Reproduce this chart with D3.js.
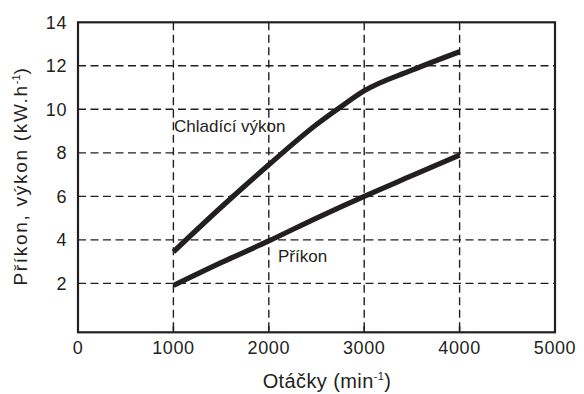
<!DOCTYPE html>
<html>
<head>
<meta charset="utf-8">
<script src="https://cdn.jsdelivr.net/npm/d3@7"></script>
<style>
  html, body { margin: 0; padding: 0; background: #fff; }
  svg { display: block; }
  text { font-family: "Liberation Sans", Arial, Helvetica, sans-serif; fill: #231f20; }
</style>
</head>
<body>
<svg id="chart" width="584" height="394"></svg>
<script>
// ---- data ----
const xTicks = [0, 1000, 2000, 3000, 4000, 5000];
const yTicks = [2, 4, 6, 8, 10, 12, 14];
const xGrid = [1000, 2000, 3000, 4000];
const yGrid = [2, 4, 6, 8, 10, 12];

const rpm = [1000, 1500, 2000, 2500, 2750, 3000, 3500, 4000];
const chladiciVykon = [3.45, 5.5, 7.45, 9.3, 10.1, 10.85, 11.8, 12.65];
const rpmPrikon = [1000, 1500, 2000, 2500, 3000, 3500, 4000];
const prikon = [1.9, 2.95, 3.95, 5.0, 6.0, 6.95, 7.9];

const labelChladici = "Chladící výkon";
const labelPrikon = "Příkon";

// ---- drawing ----
const ink = "#231f20";
const svg = d3.select("#chart");

const x = d3.scaleLinear().domain([0, 5000]).range([78, 555]);
const y = d3.scaleLinear().domain([-0.25, 14]).range([332.3, 22.3]);

const g = svg.append("g");

// grid
g.selectAll(".vgrid").data(xGrid).enter().append("line")
  .attr("x1", d => x(d)).attr("x2", d => x(d))
  .attr("y1", y.range()[1]).attr("y2", y.range()[0])
  .attr("stroke", ink).attr("stroke-width", 1.4).attr("stroke-dasharray", "8,4.5");
g.selectAll(".hgrid").data(yGrid).enter().append("line")
  .attr("x1", x.range()[0]).attr("x2", x.range()[1])
  .attr("y1", d => y(d)).attr("y2", d => y(d))
  .attr("stroke", ink).attr("stroke-width", 1.4).attr("stroke-dasharray", "8,4.5");

// x ticks (small marks above bottom axis)
g.selectAll(".xtick").data(xGrid).enter().append("line")
  .attr("x1", d => x(d)).attr("x2", d => x(d))
  .attr("y1", y.range()[0]).attr("y2", y.range()[0] - 6)
  .attr("stroke", ink).attr("stroke-width", 1.6);

// frame
g.append("rect")
  .attr("x", x.range()[0]).attr("y", y.range()[1])
  .attr("width", x.range()[1] - x.range()[0])
  .attr("height", y.range()[0] - y.range()[1])
  .attr("fill", "none").attr("stroke", ink).attr("stroke-width", 2.2);

// curves
const line = d3.line().x(d => x(d[0])).y(d => y(d[1])).curve(d3.curveMonotoneX);
g.append("path")
  .datum(rpm.map((r, i) => [r, chladiciVykon[i]]))
  .attr("d", line).attr("fill", "none").attr("stroke", ink).attr("stroke-width", 5.2);
g.append("path")
  .datum(rpmPrikon.map((r, i) => [r, prikon[i]]))
  .attr("d", line).attr("fill", "none").attr("stroke", ink).attr("stroke-width", 5.2);

// tick labels
g.selectAll(".xlab").data(xTicks).enter().append("text")
  .attr("x", d => x(d)).attr("y", 353.5)
  .attr("text-anchor", "middle").attr("font-size", 18).attr("letter-spacing", 0.6)
  .text(d => d);
g.selectAll(".ylab").data(yTicks).enter().append("text")
  .attr("x", 67).attr("y", d => y(d) + 6.5)
  .attr("text-anchor", "end").attr("font-size", 18).attr("letter-spacing", 0.6)
  .text(d => d);

// series labels
g.append("text").attr("x", 174).attr("y", 132).attr("font-size", 17).text(labelChladici);
g.append("text").attr("x", 278).attr("y", 262).attr("font-size", 17).text(labelPrikon);

// axis titles
const xt = g.append("text").attr("x", 327).attr("y", 388)
  .attr("text-anchor", "middle").attr("font-size", 20).attr("letter-spacing", 0.4);
xt.append("tspan").text("Otáčky (min");
xt.append("tspan").attr("font-size", 11).attr("dy", -8).text("-1");
xt.append("tspan").attr("dy", 8).text(")");

const yt = g.append("text")
  .attr("transform", "translate(27,176) rotate(-90)")
  .attr("text-anchor", "middle").attr("font-size", 19).attr("letter-spacing", 1.7);
yt.append("tspan").text("Příkon, výkon (kW.h");
yt.append("tspan").attr("font-size", 11).attr("dy", -7).attr("letter-spacing", 0).text("-1");
yt.append("tspan").attr("dy", 7).text(")");
</script>
</body>
</html>
